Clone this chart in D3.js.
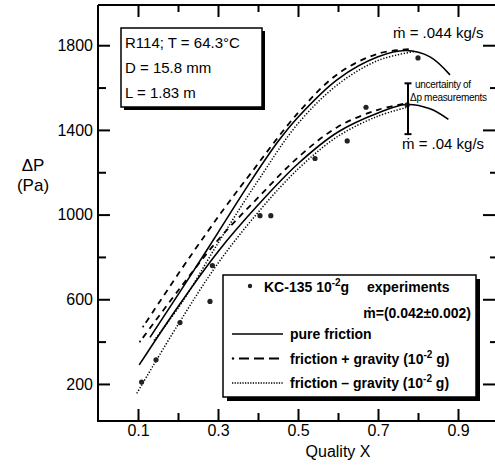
<!DOCTYPE html>
<html>
<head>
<meta charset="utf-8">
<script src="https://cdn.jsdelivr.net/npm/d3@7"></script>
<style>
  body { margin: 0; background: #fff; }
  svg { display: block; font-family: "Liberation Sans", Arial, sans-serif; }
</style>
</head>
<body>
<svg id="chart" width="495" height="467"></svg>
<script>
// tick values
const xMajor = [0.1, 0.3, 0.5, 0.7, 0.9];
const xMinor = [0.2, 0.4, 0.6, 0.8];
const yMajor = [200, 600, 1000, 1400, 1800];
const yMinor = [400, 800, 1200, 1600];

// m = .044 kg/s family
const solid044X = [0.13, 0.23, 0.3, 0.38, 0.45, 0.5, 0.6, 0.7, 0.77, 0.83, 0.88];
const solid044Y = [420, 708, 915, 1152, 1345, 1460, 1640, 1745, 1775, 1745, 1660];
const dash044X = [0.113, 0.205, 0.272, 0.323, 0.38, 0.5, 0.6, 0.7, 0.78];
const dash044Y = [471, 732, 914, 1048, 1190, 1480, 1665, 1760, 1782];
const dot044X = [0.14, 0.21, 0.3, 0.4, 0.5, 0.6, 0.7, 0.79];
const dot044Y = [405, 585, 865, 1160, 1430, 1615, 1728, 1770];

// m = .04 kg/s family
const solid04X = [0.103, 0.2, 0.3, 0.4, 0.5, 0.6, 0.7, 0.77, 0.83, 0.876];
const solid04Y = [290, 565, 825, 1045, 1240, 1390, 1480, 1520, 1500, 1450];
const dash04X = [0.105, 0.2, 0.3, 0.4, 0.5, 0.6, 0.7, 0.77];
const dash04Y = [400, 640, 880, 1080, 1270, 1415, 1495, 1525];
const dot04X = [0.097, 0.2, 0.3, 0.4, 0.5, 0.6, 0.7, 0.77];
const dot04Y = [156, 480, 770, 1010, 1215, 1370, 1465, 1505];

// KC-135 experiments
const expX = [0.109, 0.145, 0.205, 0.28, 0.286, 0.405, 0.432, 0.5425, 0.623, 0.67, 0.773, 0.80];
const expY = [209, 314, 490, 590, 759, 995, 995, 1265, 1348, 1507, 1518, 1740];

// uncertainty bar
const errX = 0.775;
const errLow = 1380;
const errHigh = 1620;

const svg = d3.select('#chart');
const x = d3.scaleLinear().domain([0, 1]).range([98, 498]);
const y = d3.scaleLinear().domain([25, 1990]).range([421, 5]);

const line = d3.line()
  .x(d => x(d[0]))
  .y(d => y(d[1]))
  .curve(d3.curveCatmullRom.alpha(0.5));

const zip = (a, b) => a.map((v, i) => [v, b[i]]);

const drawCurve = (xs, ys, kind) => {
  const p = svg.append('path')
    .attr('d', line(zip(xs, ys)))
    .attr('fill', 'none')
    .attr('stroke', '#000');
  if (kind === 'solid') p.attr('stroke-width', 1.6);
  if (kind === 'dash') {
    p.attr('stroke-width', 1.8).attr('stroke-dasharray', '6,5').attr('stroke-dashoffset', -5);
    svg.append('circle').attr('cx', x(xs[0])).attr('cy', y(ys[0])).attr('r', 1).attr('fill', '#000');
  }
  if (kind === 'dot') p.attr('stroke-width', 1.5).attr('stroke-dasharray', '1.3,1.7');
};

drawCurve(solid044X, solid044Y, 'solid');
drawCurve(dash044X, dash044Y, 'dash');
drawCurve(dot044X, dot044Y, 'dot');
drawCurve(solid04X, solid04Y, 'solid');
drawCurve(dash04X, dash04Y, 'dash');
drawCurve(dot04X, dot04Y, 'dot');

svg.selectAll('circle.exp').data(zip(expX, expY)).enter().append('circle')
  .attr('class', 'exp')
  .attr('cx', d => x(d[0]))
  .attr('cy', d => y(d[1]))
  .attr('r', 2.6)
  .attr('fill', '#222');

// uncertainty bar
const eg = svg.append('g').attr('stroke', '#000').attr('stroke-width', 2);
eg.append('line').attr('x1', x(errX)).attr('x2', x(errX)).attr('y1', y(errLow)).attr('y2', y(errHigh));
eg.append('line').attr('x1', x(errX) - 3.5).attr('x2', x(errX) + 3.5).attr('y1', y(errLow)).attr('y2', y(errLow));
eg.append('line').attr('x1', x(errX) - 3.5).attr('x2', x(errX) + 3.5).attr('y1', y(errHigh)).attr('y2', y(errHigh));

// axes: ticks point inward, labels only on major ticks
const axisStyle = g => {
  g.select('.domain').remove();
  g.selectAll('line').attr('stroke', '#000').attr('stroke-width', 2);
  g.selectAll('text').attr('fill', '#000').attr('font-size', 16)
    .attr('font-family', '"Liberation Sans", Arial, sans-serif');
};
svg.append('g').attr('transform', 'translate(0,421)')
  .call(d3.axisBottom(x).tickValues(xMajor).tickSize(-12).tickPadding(4).tickFormat(d3.format('.1f')))
  .call(axisStyle);
svg.append('g').attr('transform', 'translate(0,421)')
  .call(d3.axisBottom(x).tickValues(xMinor).tickSize(-8).tickFormat(''))
  .call(axisStyle);
svg.append('g').attr('transform', 'translate(0,5)')
  .call(d3.axisTop(x).tickValues(xMajor).tickSize(-12).tickFormat(''))
  .call(axisStyle);
svg.append('g').attr('transform', 'translate(0,5)')
  .call(d3.axisTop(x).tickValues(xMinor).tickSize(-7).tickFormat(''))
  .call(axisStyle);
svg.append('g').attr('transform', 'translate(98,0)')
  .call(d3.axisLeft(y).tickValues(yMajor).tickSize(-12).tickPadding(5).tickFormat(d3.format('d')))
  .call(axisStyle);
svg.append('g').attr('transform', 'translate(98,0)')
  .call(d3.axisLeft(y).tickValues(yMinor).tickSize(-8).tickFormat(''))
  .call(axisStyle);
svg.append('g').attr('transform', 'translate(498,0)')
  .call(d3.axisRight(y).tickValues(yMajor).tickSize(-15).tickFormat(''))
  .call(axisStyle);
svg.append('g').attr('transform', 'translate(498,0)')
  .call(d3.axisRight(y).tickValues(yMinor).tickSize(-8).tickFormat(''))
  .call(axisStyle);

// frame
const frame = svg.append('g').attr('stroke', '#000').attr('stroke-width', 2).attr('fill', 'none');
frame.append('path').attr('d', `M98,5V421H498`);
frame.append('path').attr('d', `M98,5H498`);

// axis titles
svg.append('text').attr('x', 338).attr('y', 457).attr('text-anchor', 'middle')
  .attr('font-size', 16).text('Quality X');
svg.append('text').attr('x', 33).attr('y', 171).attr('text-anchor', 'middle')
  .attr('font-size', 17).text('ΔP');
svg.append('text').attr('x', 33).attr('y', 191).attr('text-anchor', 'middle')
  .attr('font-size', 17).text('(Pa)');

// condition box
svg.append('rect').attr('x', 124).attr('y', 31).attr('width', 141).attr('height', 79).attr('fill', '#000');
svg.append('rect').attr('x', 121).attr('y', 28).attr('width', 141).attr('height', 79)
  .attr('fill', '#fff').attr('stroke', '#000').attr('stroke-width', 1.5);
const info = ['R114; T = 64.3°C', 'D = 15.8 mm', 'L = 1.83 m'];
svg.selectAll('text.info').data(info).enter().append('text')
  .attr('class', 'info')
  .attr('x', 125).attr('y', (d, i) => 48 + i * 25)
  .attr('font-size', 15).text(d => d);

// flow-rate labels
svg.append('text').attr('x', 393).attr('y', 38).attr('font-size', 15).text('ṁ = .044 kg/s');
svg.append('text').attr('x', 402).attr('y', 149).attr('font-size', 15).text('ṁ = .04 kg/s');
svg.append('text').attr('x', 415).attr('y', 88).attr('font-size', 10).attr('letter-spacing', -0.3).text('uncertainty of');
svg.append('text').attr('x', 410).attr('y', 101).attr('font-size', 10).attr('letter-spacing', -0.3).text('Δp measurements');

// legend
const lg = svg.append('g').attr('font-weight', 'bold').attr('font-size', 14);
lg.append('rect').attr('x', 227).attr('y', 279).attr('width', 253).attr('height', 122).attr('fill', '#000');
lg.append('rect').attr('x', 223).attr('y', 275).attr('width', 253).attr('height', 122)
  .attr('fill', '#fff').attr('stroke', '#000').attr('stroke-width', 1.5);
lg.append('circle').attr('cx', 250).attr('cy', 286).attr('r', 2.2).attr('fill', '#222');
const kc = lg.append('text').attr('x', 264).attr('y', 292);
kc.append('tspan').text('KC-135 10');
kc.append('tspan').attr('dy', -6).attr('font-size', 10).text('-2');
kc.append('tspan').attr('dy', 6).text('g');
lg.append('text').attr('x', 367).attr('y', 292).text('experiments');
lg.append('text').attr('x', 471).attr('y', 318).attr('text-anchor', 'end').text('ṁ=(0.042±0.002)');

const legendRows = [
  { kind: 'solid', label: 'pure friction', sup: null, tail: null },
  { kind: 'dash', label: 'friction + gravity (10', sup: '-2', tail: ' g)' },
  { kind: 'dot', label: 'friction – gravity (10', sup: '-2', tail: ' g)' },
];
legendRows.forEach((r, i) => {
  const yy = 334 + i * 24.5;
  const l = lg.append('line').attr('x1', 232).attr('x2', 283).attr('y1', yy).attr('y2', yy)
    .attr('stroke', '#000');
  if (r.kind === 'solid') l.attr('stroke-width', 1.6);
  if (r.kind === 'dash') {
    l.attr('x1', 239).attr('stroke-width', 2).attr('stroke-dasharray', '10,5');
    lg.append('circle').attr('cx', 233).attr('cy', yy).attr('r', 1.2).attr('fill', '#000');
  }
  if (r.kind === 'dot') l.attr('stroke-width', 1.3).attr('stroke-dasharray', '1.3,1.3');
  const t = lg.append('text').attr('x', 290).attr('y', yy + 5);
  t.append('tspan').text(r.label);
  if (r.sup) {
    t.append('tspan').attr('dy', -6).attr('font-size', 10).text(r.sup);
    t.append('tspan').attr('dy', 6).text(r.tail);
  }
});
</script>
</body>
</html>
